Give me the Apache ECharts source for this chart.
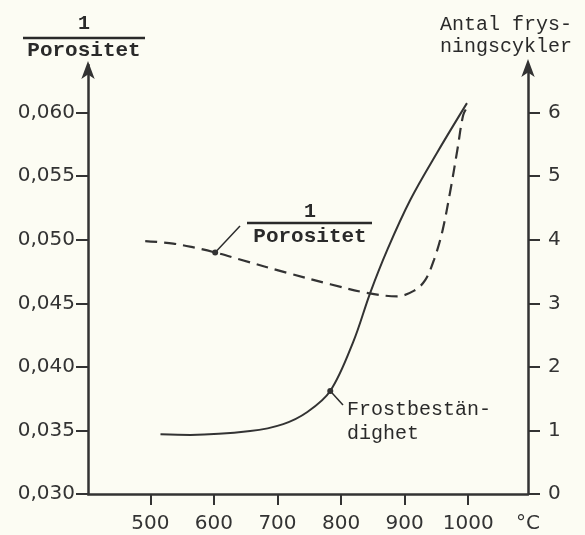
<!DOCTYPE html>
<html>
<head>
<meta charset="utf-8">
<script src="https://cdn.jsdelivr.net/npm/echarts@6.0.0/dist/echarts.min.js"></script>
<style>
  html, body { margin: 0; padding: 0; background: #fcfcf3; }
  #root { width: 585px; height: 535px; }
</style>
</head>
<body>
<div id="root"></div>
<script>
// temperature (°C) and 1/porosity, dashed curve
const porosityTemp = [492, 536, 568, 602, 641, 715, 783, 843, 888, 915, 932, 946, 959, 972, 983, 992, 998]
const porosityValues = [0.0499, 0.0497, 0.0494, 0.0490, 0.04845, 0.0474, 0.0465, 0.0458, 0.04555, 0.0460, 0.0468, 0.0484, 0.0506, 0.0539, 0.0571, 0.0598, 0.0604]

// temperature (°C) and number of freezing cycles, solid curve
const frostTemp = [516, 563, 657, 709, 747, 783, 819, 846, 873, 909, 951, 998]
const frostValues = [0.94, 0.93, 0.99, 1.10, 1.29, 1.62, 2.39, 3.17, 3.85, 4.63, 5.37, 6.15]

const xTicks = [500, 600, 700, 800, 900, 1000]
const leftTicks = [0.030, 0.035, 0.040, 0.045, 0.050, 0.055, 0.060]
const rightTicks = [0, 1, 2, 3, 4, 5, 6]

const ink = '#333'
const mono = 'Liberation Mono'
const hand = 'DejaVu Sans'

const chart = echarts.init(document.getElementById('root'))

const toPairs = (xs, ys) => xs.map((x, i) => [x, ys[i]])

const porosityData = toPairs(porosityTemp, porosityValues).map((p, i) =>
  i === 3 ? { value: p, symbol: 'circle', symbolSize: 6 } : { value: p, symbol: 'none' })
const frostData = toPairs(frostTemp, frostValues).map((p, i) =>
  i === 5 ? { value: p, symbol: 'circle', symbolSize: 6 } : { value: p, symbol: 'none' })

const option = {
  backgroundColor: '#fcfcf3',
  animation: false,
  grid: { left: 88, right: 57, top: 65, bottom: 41 },
  xAxis: {
    type: 'value',
    min: 402,
    max: 1094,
    splitLine: { show: false },
    axisLine: { lineStyle: { color: ink, width: 2.5 } },
    axisTick: { customValues: xTicks, length: 11, lineStyle: { color: ink, width: 2 } },
    axisLabel: {
      customValues: xTicks, margin: 20, color: ink, fontFamily: hand, fontSize: 20,
      formatter: v => String(v)
    }
  },
  yAxis: [
    {
      type: 'value',
      min: 0.030,
      max: 0.06375,
      splitLine: { show: false },
      axisLine: { show: true, symbol: ['none', 'arrow'], symbolSize: [10, 18], symbolOffset: [0, 4], lineStyle: { color: ink, width: 2.5 } },
      axisTick: { customValues: leftTicks, length: 12, lineStyle: { color: ink, width: 2 } },
      axisLabel: {
        customValues: leftTicks, margin: 13, color: ink, fontFamily: hand, fontSize: 20,
        formatter: v => v.toFixed(3).replace('.', ',')
      }
    },
    {
      type: 'value',
      position: 'right',
      min: 0,
      max: 6.75,
      splitLine: { show: false },
      axisLine: { show: true, symbol: ['none', 'arrow'], symbolSize: [10, 18], symbolOffset: [0, 6], lineStyle: { color: ink, width: 2.5 } },
      axisTick: { customValues: rightTicks, length: 12, lineStyle: { color: ink, width: 2 } },
      axisLabel: { customValues: rightTicks, margin: 20, color: ink, fontFamily: hand, fontSize: 20 }
    }
  ],
  series: [
    {
      name: '1/Porositet',
      type: 'line',
      yAxisIndex: 0,
      smooth: 0.35,
      data: porosityData,
      itemStyle: { color: ink },
      lineStyle: { color: ink, width: 2.2, type: [12, 7] }
    },
    {
      name: 'Frostbeständighet',
      type: 'line',
      yAxisIndex: 1,
      smooth: 0.35,
      data: frostData,
      itemStyle: { color: ink },
      lineStyle: { color: ink, width: 2 }
    }
  ]
}

chart.setOption(option)

// leader lines start at the marked points on each curve
const pDot = chart.convertToPixel({ xAxisIndex: 0, yAxisIndex: 0 }, porosityData[3].value)
const fDot = chart.convertToPixel({ xAxisIndex: 0, yAxisIndex: 1 }, frostData[5].value)

const txt = (x, y, text, opts) => ({
  type: 'text', x, y,
  style: Object.assign({ text, fill: '#2a2a2a', font: '20px "' + mono + '"', textAlign: 'left', textVerticalAlign: 'middle' }, opts || {})
})
const rule = (x1, y1, x2, y2, w) => ({
  type: 'line', shape: { x1, y1, x2, y2 }, style: { stroke: '#2a2a2a', lineWidth: w || 2 }
})

chart.setOption({
  graphic: [
    // left axis title
    txt(84, 24, '1', { font: 'bold 20px "' + mono + '"', textAlign: 'center' }),
    rule(23, 38, 145, 38, 2.5),
    txt(84, 51, 'Porositet', { font: 'bold 21px "' + mono + '"', textAlign: 'center' }),
    // right axis title
    txt(440, 25, 'Antal frys-'),
    txt(440, 47, 'ningscykler'),
    // inline label for dashed curve
    txt(310, 212, '1', { font: 'bold 20px "' + mono + '"', textAlign: 'center' }),
    rule(247, 223, 372, 223, 2.5),
    txt(310, 237, 'Porositet', { font: 'bold 21px "' + mono + '"', textAlign: 'center' }),
    rule(pDot[0], pDot[1], 240, 226, 1.5),
    // inline label for solid curve
    txt(347, 410, 'Frostbestän-'),
    txt(347, 434, 'dighet'),
    rule(fDot[0], fDot[1], 343, 405, 1.5),
    // unit
    txt(516, 524, '°C', { font: '20px "' + hand + '"', fill: ink })
  ]
})
</script>
</body>
</html>
